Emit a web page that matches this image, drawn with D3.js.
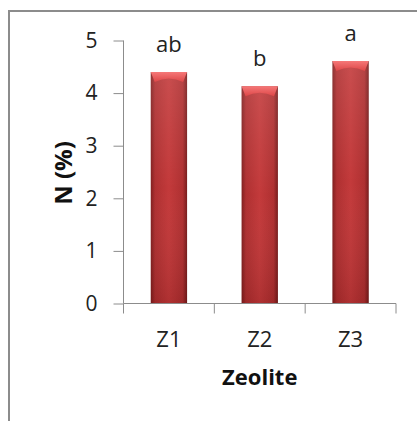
<!DOCTYPE html>
<html><head><meta charset="utf-8">
<script src="https://cdn.jsdelivr.net/npm/d3@7"></script>
<style>html,body{margin:0;padding:0;background:#fff;}svg{display:block;}</style>
</head><body>
<script>
const categories = ["Z1", "Z2", "Z3"];
const values = [4.40, 4.13, 4.61];
const letters = ["ab", "b", "a"];
const yTicks = [0, 1, 2, 3, 4, 5];
const yTitle = "N (%)";
const xTitle = "Zeolite";

const W = 417, H = 421;
const svg = d3.select("body").append("svg").attr("width", W).attr("height", H);
const font = "'Open Sans', 'Noto Sans', sans-serif";

// frame
svg.append("path").attr("d", `M9,${H} V11 H${W}`).attr("fill", "none")
  .attr("stroke", "#8c8c8c").attr("stroke-width", 2);

const x0 = 123.5, x1 = 396, yBot = 303.5, yTop = 40.5;
const x = d3.scaleBand().domain(categories).range([x0, x1]).paddingInner(0).paddingOuter(0);
const y = d3.scaleLinear().domain([0, 5]).range([yBot, yTop]);

const defs = svg.append("defs");
const g = defs.append("linearGradient").attr("id", "barH").attr("x1", 0).attr("x2", 1).attr("y1", 0).attr("y2", 0);
[[0, "#7e1b1b"], [0.12, "#ad2c2d"], [0.5, "#c23637"], [0.88, "#ad2c2d"], [1, "#741818"]].forEach(s =>
  g.append("stop").attr("offset", s[0]).attr("stop-color", s[1]));
const gv = defs.append("linearGradient").attr("id", "barV").attr("x1", 0).attr("x2", 0).attr("y1", 0).attr("y2", 1);
[[0, "#ffffff", 0.12], [0.5, "#ffffff", 0.02], [1, "#000000", 0.1]].forEach(s =>
  gv.append("stop").attr("offset", s[0]).attr("stop-color", s[1]).attr("stop-opacity", s[2]));
const gt = defs.append("linearGradient").attr("id", "barT").attr("x1", 0).attr("x2", 0).attr("y1", 0).attr("y2", 1);
[[0, "#f57878"], [1, "#dd4647"]].forEach(s => gt.append("stop").attr("offset", s[0]).attr("stop-color", s[1]));

const bw = x.bandwidth() / 2.5;
const bars = svg.append("g").selectAll("g").data(categories).join("g");
bars.append("rect")
  .attr("x", (d) => x(d) + (x.bandwidth() - bw) / 2)
  .attr("y", (d, i) => y(values[i]))
  .attr("width", bw)
  .attr("height", (d, i) => yBot - y(values[i]))
  .attr("fill", "url(#barH)");
bars.append("rect")
  .attr("x", (d) => x(d) + (x.bandwidth() - bw) / 2)
  .attr("y", (d, i) => y(values[i]))
  .attr("width", bw)
  .attr("height", (d, i) => yBot - y(values[i]))
  .attr("fill", "url(#barV)");
// top bevel
bars.append("path")
  .attr("d", (d, i) => {
    const l = x(d) + (x.bandwidth() - bw) / 2, r = l + bw, t = y(values[i]);
    return `M${l},${t} H${r} L${r - 4},${t + 10} Q${(l + r) / 2},${t + 3} ${l + 4},${t + 10} Z`;
  })
  .attr("fill", "url(#barT)");

// y axis
const yAxis = svg.append("g").attr("transform", `translate(${x0},0)`)
  .call(d3.axisLeft(y).tickValues(yTicks).tickSize(10).tickPadding(16).tickFormat(d3.format("d")));
yAxis.select(".domain").attr("stroke", "#8c8c8c").attr("d", `M-0,${yTop}V${yBot}`);
yAxis.selectAll(".tick line").attr("stroke", "#8c8c8c");
yAxis.selectAll("text").attr("font-family", font).attr("font-size", 21).attr("fill", "#222");

// x axis
const xAxis = svg.append("g").attr("transform", `translate(0,${yBot})`)
  .call(d3.axisBottom(x).tickSize(0).tickPadding(0));
xAxis.select(".domain").attr("stroke", "#8c8c8c").attr("d", `M${x0},0H${x1}`);
xAxis.selectAll("text").attr("font-family", font).attr("font-size", 22).attr("fill", "#222")
  .attr("y", 43.5).attr("dy", 0);
// boundary ticks
const bounds = categories.map(c => x(c)).concat([x1]);
svg.append("g").selectAll("line").data(bounds).join("line")
  .attr("x1", d => d).attr("x2", d => d).attr("y1", yBot).attr("y2", yBot + 10)
  .attr("stroke", "#8c8c8c");

// letters
svg.append("g").selectAll("text").data(categories).join("text")
  .attr("x", d => x(d) + x.bandwidth() / 2)
  .attr("y", (d, i) => y(values[i]) - 20)
  .attr("text-anchor", "middle")
  .attr("font-family", font).attr("font-size", 22).attr("fill", "#222")
  .text((d, i) => letters[i]);

// titles
svg.append("text").attr("x", (x0 + x1) / 2).attr("y", 385).attr("text-anchor", "middle")
  .attr("font-family", font).attr("font-size", 22).attr("font-weight", "bold").attr("fill", "#111")
  .text(xTitle);
svg.append("text").attr("transform", `translate(72,173) rotate(-90)`).attr("text-anchor", "middle")
  .attr("font-family", font).attr("font-size", 24).attr("font-weight", "bold").attr("fill", "#111")
  .text(yTitle);
</script>
</body></html>
